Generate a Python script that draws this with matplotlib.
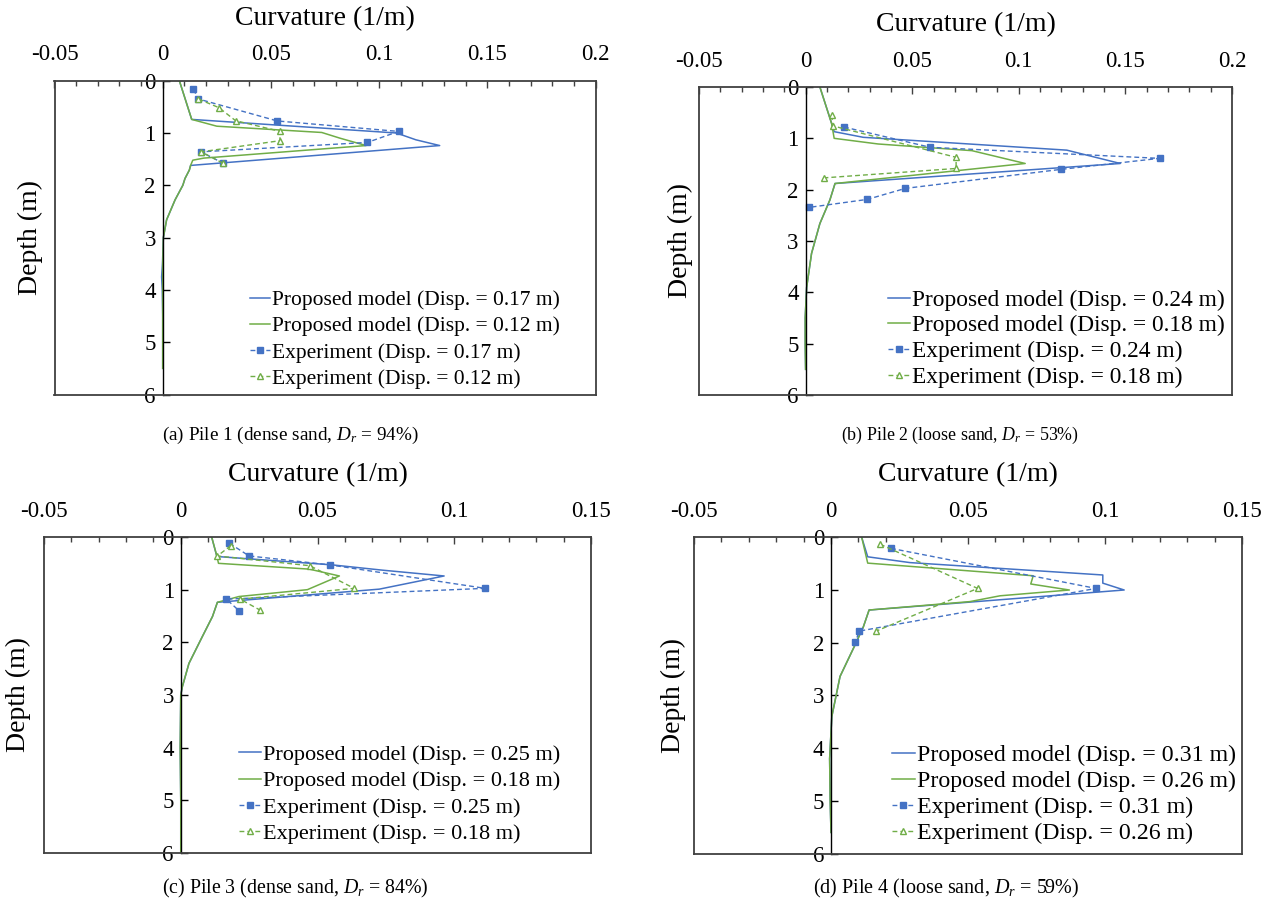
import matplotlib
matplotlib.use("Agg")
import matplotlib.pyplot as plt
from matplotlib.ticker import MultipleLocator

plt.rcParams['font.family'] = ['Liberation Serif', 'DejaVu Serif']
plt.rcParams['mathtext.fontset'] = 'custom'
plt.rcParams['mathtext.rm'] = 'Liberation Serif'
plt.rcParams['mathtext.it'] = 'Liberation Serif:italic'

BLUE = '#4472C4'
GREEN = '#70AD47'

# ---------------- Panel (a) ----------------
a_model1_depth = [0, 0.74, 1.0, 1.13, 1.24, 1.62, 1.71, 1.87, 2.0, 2.28, 2.66, 3.0, 3.5, 3.75, 4.0, 4.5, 5.0, 5.5]
a_model1_curv = [0.0077, 0.0134, 0.108, 0.117, 0.128, 0.0129, 0.0123, 0.0103, 0.0093, 0.0057, 0.0018, 0.0003, -0.0001, -0.0005, -0.0002, 0.0, 0.0, 0.0]
a_model2_depth = [0, 0.74, 0.87, 0.99, 1.10, 1.24, 1.48, 1.52, 1.62, 1.71, 1.87, 2.0, 2.28, 2.66, 3.0, 3.5, 4.0, 4.5, 5.0, 5.5]
a_model2_curv = [0.0077, 0.0134, 0.025, 0.0735, 0.082, 0.094, 0.019, 0.0139, 0.0129, 0.0123, 0.0103, 0.0093, 0.0057, 0.0018, 0.0003, 0.0, 0.0, 0.0, 0.0, 0.0]
a_exp1_depth = [0.165, 0.35, 0.77, 0.97, 1.18, 1.36, 1.58]
a_exp1_curv = [0.0142, 0.0165, 0.053, 0.109, 0.0946, 0.0177, 0.028]
a_exp2_depth = [0.35, 0.516, 0.765, 0.968, 1.147, 1.36, 1.58]
a_exp2_curv = [0.0165, 0.026, 0.0337, 0.0542, 0.0542, 0.0177, 0.028]
a_disp = ['0.17', '0.12']

# ---------------- Panel (b) ----------------
b_tail_depth = [1.88, 2.2, 2.66, 3.24, 3.9, 4.5, 5.0, 5.5]
b_tail_curv = [0.0138, 0.0114, 0.0067, 0.0028, 0.0005, -0.0002, -0.0002, 0.0]
b_model1_depth = [0, 0.71, 0.87, 0.98, 1.23, 1.49] + b_tail_depth
b_model1_curv = [0.0067, 0.0122, 0.0134, 0.027, 0.1225, 0.1476] + b_tail_curv
b_model2_depth = [0, 0.71, 1.0, 1.11, 1.24, 1.49] + b_tail_depth
b_model2_curv = [0.0067, 0.0122, 0.0134, 0.034, 0.078, 0.103] + b_tail_curv
b_exp1_depth = [0.78, 1.175, 1.39, 1.605, 1.975, 2.19, 2.345]
b_exp1_curv = [0.018, 0.0585, 0.166, 0.1197, 0.0468, 0.0289, 0.0017]
b_exp2_depth = [0.546, 0.76, 1.37, 1.587, 1.77]
b_exp2_curv = [0.0122, 0.013, 0.0706, 0.0706, 0.0087]
b_disp = ['0.24', '0.18']

# ---------------- Panel (c) ----------------
c_tail_depth = [1.24, 1.51, 1.89, 2.4, 2.84, 3.0, 4.0, 5.0, 6.0]
c_tail_curv = [0.0134, 0.0116, 0.0079, 0.003, 0.0006, 0.0, -0.0002, 0.0, 0.0]
c_model1_depth = [0, 0.37, 0.53, 0.63, 0.74, 0.99] + c_tail_depth
c_model1_curv = [0.0113, 0.0132, 0.0555, 0.0738, 0.0963, 0.0726] + c_tail_curv
c_model2_depth = [0, 0.36, 0.5, 0.61, 0.74, 1.0, 1.13] + c_tail_depth
c_model2_curv = [0.0113, 0.0132, 0.0138, 0.047, 0.058, 0.0463, 0.0213] + c_tail_curv
c_exp1_depth = [0.12, 0.36, 0.53, 0.975, 1.18, 1.40]
c_exp1_curv = [0.0178, 0.025, 0.0547, 0.1113, 0.0167, 0.0213]
c_exp2_depth = [0.165, 0.36, 0.545, 0.975, 1.18, 1.385]
c_exp2_curv = [0.0183, 0.0134, 0.0472, 0.0634, 0.0217, 0.0289]
c_disp = ['0.25', '0.18']

# ---------------- Panel (d) ----------------
d_tail_depth = [1.38, 1.70, 2.04, 2.64, 3.40, 4.2, 5.0, 5.6]
d_tail_curv = [0.0139, 0.0118, 0.0088, 0.0033, 0.0003, -0.0005, -0.0003, 0.0]
d_model1_depth = [0, 0.37, 0.48, 0.715, 0.87, 1.0] + d_tail_depth
d_model1_curv = [0.0112, 0.0134, 0.0288, 0.0992, 0.0992, 0.107] + d_tail_curv
d_model2_depth = [0, 0.49, 0.73, 0.886, 1.0, 1.11, 1.22] + d_tail_depth
d_model2_curv = [0.0112, 0.0134, 0.0738, 0.0729, 0.087, 0.0617, 0.0507] + d_tail_curv
d_exp1_depth = [0.21, 0.97, 1.78, 1.99]
d_exp1_curv = [0.0219, 0.0967, 0.0103, 0.0089]
d_exp2_depth = [0.13, 0.97, 1.78]
d_exp2_curv = [0.0179, 0.0535, 0.0165]
d_disp = ['0.31', '0.26']

captions = [('(a) Pile 1 (dense sand, ', '94%)'),
            ('(b) Pile 2 (loose sand, ', '53%)'),
            ('(c) Pile 3 (dense sand, ', '84%)'),
            ('(d) Pile 4 (loose sand, ', '59%)')]

W, H = 1277, 907
fig = plt.figure(figsize=(W / 100, H / 100), dpi=100)


def px_axes(x0, x1, y0, y1):
    return fig.add_axes([x0 / W, 1 - y1 / H, (x1 - x0) / W, (y1 - y0) / H])


panels = [
    dict(box=(54.5, 595.5, 80.7, 394.5), xmax=0.2,
         m1=(a_model1_curv, a_model1_depth), m2=(a_model2_curv, a_model2_depth),
         e1=(a_exp1_curv, a_exp1_depth), e2=(a_exp2_curv, a_exp2_depth), disp=a_disp,
         leg=(560, 389), lfs=15.5, lsp=0.29, cap=(290, 435), cfs=13.8, ylab=30),
    dict(box=(699, 1232, 87, 395), xmax=0.2,
         m1=(b_model1_curv, b_model1_depth), m2=(b_model2_curv, b_model2_depth),
         e1=(b_exp1_curv, b_exp1_depth), e2=(b_exp2_curv, b_exp2_depth), disp=b_disp,
         leg=(1225, 388), lfs=16.8, lsp=0.19, cap=(960, 435), cfs=12.9, ylab=680),
    dict(box=(44, 591, 537, 853), xmax=0.15,
         m1=(c_model1_curv, c_model1_depth), m2=(c_model2_curv, c_model2_depth),
         e1=(c_exp1_curv, c_exp1_depth), e2=(c_exp2_curv, c_exp2_depth), disp=c_disp,
         leg=(560, 844), lfs=16.0, lsp=0.26, cap=(295, 888), cfs=14.3, ylab=18),
    dict(box=(694, 1242, 537.3, 853.5), xmax=0.15,
         m1=(d_model1_curv, d_model1_depth), m2=(d_model2_curv, d_model2_depth),
         e1=(d_exp1_curv, d_exp1_depth), e2=(d_exp2_curv, d_exp2_depth), disp=d_disp,
         leg=(1236, 844), lfs=17.2, lsp=0.18, cap=(946, 888), cfs=14.5, ylab=673),
]

for p, cap in zip(panels, captions):
    x0, x1, y0, y1 = p['box']
    ax = px_axes(x0, x1, y0, y1)
    ax.set_xlim(-0.05, p['xmax'])
    ax.set_ylim(6, 0)
    d1, d2 = p['disp']
    ax.plot(*p['m1'], color=BLUE, lw=1.1, label=f'Proposed model (Disp. = {d1} m)')
    ax.plot(*p['m2'], color=GREEN, lw=1.1, label=f'Proposed model (Disp. = {d2} m)')
    ax.plot(*p['e1'], color=BLUE, lw=1.0, ls=(0, (3.5, 2.2)), marker='s', ms=4.5,
            label=f'Experiment (Disp. = {d1} m)')
    ax.plot(*p['e2'], color=GREEN, lw=1.0, ls=(0, (3.5, 2.2)), marker='^', ms=5,
            mfc='white', mew=1.0, label=f'Experiment (Disp. = {d2} m)')

    # spines / frame
    for s in ['top', 'bottom', 'right']:
        ax.spines[s].set_color('#404040')
        ax.spines[s].set_linewidth(1.3)
    ax.spines['left'].set_position(('data', 0))
    ax.spines['left'].set_color('black')
    ax.spines['left'].set_linewidth(1.0)
    ax.plot([0, 0], [0, 1], transform=ax.transAxes, color='#404040', lw=1.3,
            clip_on=False)

    ax.xaxis.tick_top()
    ax.xaxis.set_label_position('top')
    ax.xaxis.set_major_locator(MultipleLocator(0.05))
    ax.xaxis.set_minor_locator(MultipleLocator(0.01))
    ax.tick_params(axis='x', which='major', direction='in', length=5, width=1,
                   labelsize=16.5, pad=11, top=True, bottom=False, color='#404040')
    ax.tick_params(axis='x', which='minor', direction='in', length=3.5, width=1,
                   top=True, bottom=False, color='#404040')
    nt = 6 if p['xmax'] > 0.16 else 5
    ax.set_xticks([-0.05, 0, 0.05, 0.1, 0.15, 0.2][:nt])
    ax.set_xticklabels(['-0.05', '0', '0.05', '0.1', '0.15', '0.2'][:nt])
    ax.set_xlabel('Curvature (1/m)', fontsize=20, labelpad=14)

    ax.set_yticks(range(0, 7))
    ax.set_yticklabels([str(i) for i in range(0, 7)])
    ax.tick_params(axis='y', direction='in', length=5, width=1, labelsize=16.5, pad=5)

    fig.text(p['ylab'] / W, 1 - ((y0 + y1) / 2) / H, 'Depth (m)', rotation=90,
             fontsize=20, ha='center', va='center')

    lx, ly = p['leg']
    ax.legend(loc='lower right', bbox_to_anchor=(lx / W, 1 - ly / H),
              bbox_transform=fig.transFigure, frameon=False, fontsize=p['lfs'],
              handlelength=0.95, handletextpad=0.1, labelspacing=p['lsp'],
              borderaxespad=0, borderpad=0, numpoints=1)

    cx, cy = p['cap']
    pre, post = cap
    fig.text(cx / W, 1 - cy / H, pre + r'$D_r$' + ' = ' + post, fontsize=p['cfs'],
             ha='center', va='center')

fig.savefig('out.png', dpi=100)
